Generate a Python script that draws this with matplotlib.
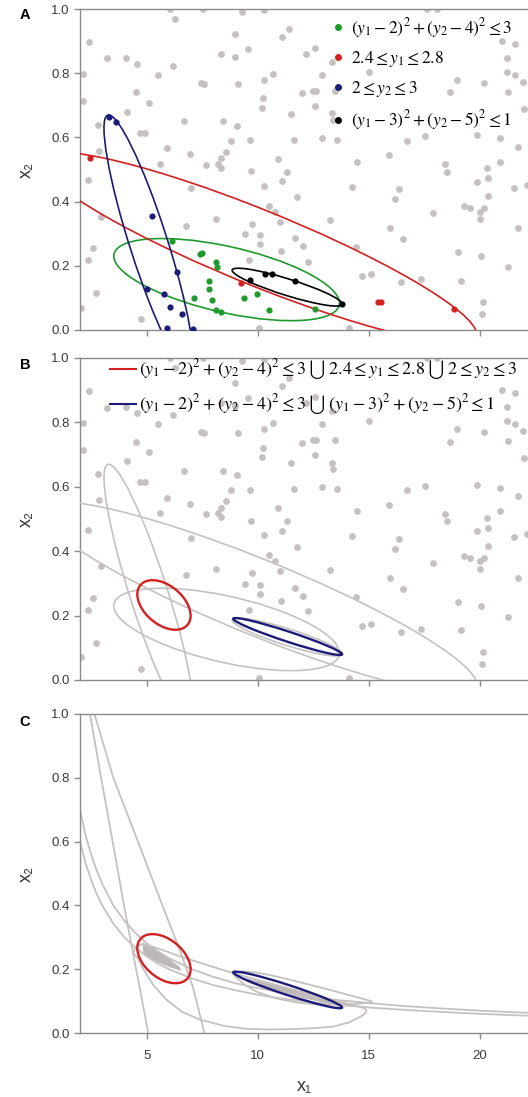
import numpy as np
import matplotlib
matplotlib.use('Agg')
import matplotlib.pyplot as plt
from matplotlib.patches import Circle, Polygon
from matplotlib.transforms import Affine2D
from matplotlib.lines import Line2D

plt.rcParams['font.family'] = ['Liberation Sans', 'DejaVu Sans']
plt.rcParams['mathtext.fontset'] = 'stix'

# grey samples (same cloud in A and B)
grey_x1 = [6.04, 7.54, 9.30, 10.29, 6.29, 8.97, 11.41, 11.10, 2.39, 8.34, 8.97, 9.57, 3.23, 4.09, 4.58,
           6.17, 2.14, 5.51, 10.69, 10.27, 7.44, 7.59, 9.12, 4.54, 12.01, 2.14, 5.12, 10.24, 10.18, 4.10,
           11.52, 6.67, 8.46, 9.07, 2.81, 4.70, 4.91, 8.79, 9.66, 11.64, 5.93, 2.86, 6.94, 8.56, 8.34,
           10.92, 8.22, 8.37, 7.66, 5.62, 9.72, 11.32,
           17.62, 18.07, 12.18, 12.59, 13.34, 14.99, 12.89, 20.99, 21.59, 21.22, 21.22, 21.59, 21.94, 18.97,
           20.17, 21.29, 18.67, 12.51, 12.63, 13.49, 12.59, 13.34, 13.41, 21.97, 12.89, 13.56, 16.72, 17.54,
           19.87, 20.92, 21.74, 15.89, 14.46, 18.44, 18.52, 20.32, 20.92,
           2.36, 6.99, 10.27, 11.10, 11.75, 2.96, 8.11, 6.79, 10.50, 10.77, 10.99, 9.75, 9.42, 10.09, 10.09,
           11.70, 12.05, 11.07, 2.59, 2.36, 9.61, 2.73, 2.06, 4.73, 10.06,
           19.87, 20.36, 14.24, 16.37, 16.18, 21.55, 22.12, 20.39, 19.31, 19.57, 20.17, 20.02, 20.02, 17.89,
           13.26, 15.96, 16.52, 21.74, 14.43, 12.27, 19.04, 20.05, 21.25, 14.69, 15.09, 16.44, 17.35, 19.16,
           20.14, 20.12, 14.09]
grey_x2 = [1.0, 1.0, 0.99, 0.997, 0.969, 0.922, 0.937, 0.912, 0.898, 0.859, 0.850, 0.875, 0.846, 0.848, 0.829,
           0.823, 0.797, 0.794, 0.797, 0.778, 0.771, 0.766, 0.766, 0.740, 0.737, 0.713, 0.708, 0.722, 0.691, 0.680,
           0.673, 0.650, 0.650, 0.636, 0.639, 0.614, 0.615, 0.590, 0.591, 0.593, 0.566, 0.558, 0.548, 0.555, 0.535,
           0.533, 0.518, 0.506, 0.514, 0.518, 0.495, 0.493,
           1.0, 1.0, 0.859, 0.880, 0.836, 0.805, 0.794, 0.900, 0.890, 0.848, 0.805, 0.794, 0.772, 0.779,
           0.769, 0.742, 0.740, 0.745, 0.745, 0.745, 0.699, 0.675, 0.654, 0.688, 0.599, 0.592, 0.589, 0.604,
           0.607, 0.597, 0.571, 0.545, 0.524, 0.516, 0.493, 0.504, 0.524,
           0.467, 0.441, 0.450, 0.464, 0.413, 0.353, 0.346, 0.325, 0.387, 0.369, 0.337, 0.331, 0.299, 0.296, 0.268,
           0.286, 0.262, 0.246, 0.254, 0.218, 0.218, 0.114, 0.070, 0.034, 0.005,
           0.462, 0.473, 0.446, 0.438, 0.407, 0.443, 0.452, 0.417, 0.386, 0.379, 0.379, 0.369, 0.345, 0.363,
           0.343, 0.317, 0.283, 0.317, 0.259, 0.213, 0.242, 0.231, 0.195, 0.169, 0.173, 0.149, 0.159, 0.154,
           0.086, 0.050, 0.007]

# samples meeting each constraint (panel A)
green_x1 = [6.14, 7.39, 7.50, 8.14, 8.18, 7.80, 7.80, 7.14, 7.96, 8.14, 8.37, 9.37, 9.99, 10.50, 12.59]
green_x2 = [0.277, 0.236, 0.239, 0.213, 0.197, 0.153, 0.127, 0.099, 0.095, 0.062, 0.057, 0.099, 0.112, 0.062, 0.064]
red_x1 = [2.44, 9.27, 15.40, 15.55, 18.85]
red_x2 = [0.536, 0.146, 0.088, 0.088, 0.064]
blue_x1 = [3.29, 3.61, 5.24, 6.38, 5.02, 5.78, 6.05, 6.61, 5.93, 7.11]
blue_x2 = [0.664, 0.649, 0.356, 0.182, 0.129, 0.111, 0.072, 0.051, 0.007, 0.002]
black_x1 = [9.64, 10.32, 10.66, 11.67, 13.79]
black_x2 = [0.156, 0.173, 0.173, 0.153, 0.081]

# enclosing ellipses: centre x1, centre x2, half width, half height, correlation
ell_green = (8.6, 0.157, 5.08, 0.128, -0.572)
ell_red = (10.0, 0.257, 9.85, 0.297, -0.906)
ell_blue = (5.09, 0.27, 2.01, 0.40, -0.895)
ell_black = (11.33, 0.1335, 2.48, 0.059, -0.89)
ell_union1 = (5.78, 0.233, 1.2, 0.077, -0.43)
ell_union2 = (11.35, 0.135, 2.45, 0.0574, -0.958)

# true constraint boundaries (panel C)
y2lo_x1 = [2.45, 2.95, 3.47, 3.98, 4.47, 4.75, 5.07]
y2lo_x2 = [1.0, 0.8, 0.6, 0.4, 0.22, 0.12, 0.0]
y2hi_x1 = [2.65, 3.5, 4.5, 5.6, 6.6, 7.1, 7.6]
y2hi_x2 = [1.0, 0.8, 0.62, 0.42, 0.24, 0.14, 0.0]
hyp_x1 = [2.0, 2.25, 2.5, 2.75, 3.0, 3.5, 4.0, 4.5, 5.0, 5.5, 6.0, 7.0, 8.0, 9.0, 10.0, 11.0, 12.0,
          13.5, 15.0, 16.5, 18.0, 20.0, 22.2]
y1hi_x2 = [0.70, 0.62, 0.56, 0.51, 0.468, 0.40, 0.352, 0.313, 0.282, 0.256, 0.235, 0.201, 0.176, 0.156,
           0.141, 0.128, 0.117, 0.104, 0.094, 0.085, 0.078, 0.070, 0.063]
y1lo_x2 = [0.60, 0.533, 0.48, 0.436, 0.40, 0.343, 0.300, 0.267, 0.240, 0.218, 0.200, 0.172, 0.150, 0.134,
           0.120, 0.109, 0.100, 0.089, 0.080, 0.073, 0.067, 0.060, 0.054]
circ1_x1 = [4.4, 4.6, 4.85, 5.3, 5.9, 6.6, 7.4, 8.5, 9.5, 10.5, 11.5, 12.5, 13.4, 14.1, 14.6, 14.85,
            14.9, 14.8, 14.3, 13.5, 12.5, 11.5, 10.5, 9.5, 8.5, 7.5, 6.5, 5.8, 5.2, 4.75, 4.5, 4.4]
circ1_x2 = [0.25, 0.235, 0.2, 0.15, 0.104, 0.066, 0.042, 0.022, 0.013, 0.011, 0.012, 0.015, 0.02, 0.033, 0.05, 0.062,
            0.07, 0.078, 0.088, 0.102, 0.12, 0.138, 0.157, 0.176, 0.196, 0.218, 0.24, 0.258, 0.272, 0.278, 0.27, 0.25]
circ2_x1 = [8.9, 9.3, 9.9, 10.6, 11.4, 12.3, 13.2, 14.0, 14.7, 15.1, 15.15, 14.9, 14.3, 13.5, 12.6, 11.7,
            10.8, 10.0, 9.4, 9.0, 8.9]
circ2_x2 = [0.19, 0.193, 0.19, 0.181, 0.168, 0.152, 0.136, 0.121, 0.108, 0.1, 0.096, 0.094, 0.091, 0.089, 0.09,
            0.096, 0.109, 0.128, 0.152, 0.176, 0.19]
feas1_x1 = [4.82, 5.3, 5.9, 6.5, 6.55, 6.0, 5.4, 4.85]
feas1_x2 = [0.285, 0.265, 0.238, 0.207, 0.195, 0.207, 0.225, 0.248]
feas2_x1 = [9.5, 10.5, 11.5, 12.5, 13.5, 14.2, 14.0, 13.0, 12.0, 11.0, 10.0, 9.5]
feas2_x2 = [0.172, 0.155, 0.137, 0.118, 0.10, 0.088, 0.083, 0.095, 0.11, 0.128, 0.148, 0.16]

GREY = '#c6c1c1'
GREEN = '#1e9a2c'
RED = '#d42020'
NAVY = '#1c1c78'


def draw_ellipse(ax, e, color, lw):
    cx, cy, hw, hh, rho = e
    s = np.sqrt(1 - rho ** 2)
    tr = Affine2D(np.array([[hw, 0, cx], [hh * rho, -hh * s, cy], [0, 0, 1]]))
    ax.add_patch(Circle((0, 0), 1, transform=tr + ax.transData, fill=False,
                        edgecolor=color, lw=lw, zorder=3))


def style_axes(ax, xlabels):
    ax.set_xlim(2, 22.17)
    ax.set_ylim(0, 1.0)
    ax.set_xticks([5, 10, 15, 20])
    ax.set_yticks([0, 0.2, 0.4, 0.6, 0.8, 1.0])
    ax.set_yticklabels(['0.0', '0.2', '0.4', '0.6', '0.8', '1.0'])
    if not xlabels:
        ax.set_xticklabels([])
    ax.spines['right'].set_visible(False)
    for sp in ['left', 'bottom', 'top']:
        ax.spines[sp].set_color('#8a8a8a')
        ax.spines[sp].set_linewidth(1.0)
    ax.tick_params(direction='out', length=4, width=1, color='#8a8a8a',
                   labelcolor='#3a3a3a', labelsize=9.5)
    ax.tick_params(axis='x', pad=8)
    ax.set_ylabel('x₂', fontsize=13, color='#333333', labelpad=12)


fig = plt.figure(figsize=(5.28, 10.97), dpi=100)
W, H = 528, 1097
axA = fig.add_axes([80 / W, (H - 330) / H, 448 / W, 321 / H])
axB = fig.add_axes([80 / W, (H - 680) / H, 448 / W, 322 / H])
axC = fig.add_axes([80 / W, (H - 1033) / H, 448 / W, 319 / H])

# ---- A
axA.scatter(grey_x1, grey_x2, s=24, color=GREY, linewidths=0, zorder=2)
for e, c in [(ell_green, GREEN), (ell_red, RED), (ell_blue, NAVY), (ell_black, 'black')]:
    draw_ellipse(axA, e, c, 1.2)
axA.scatter(green_x1, green_x2, s=20, color=GREEN, linewidths=0, zorder=4)
axA.scatter(red_x1, red_x2, s=20, color=RED, linewidths=0, zorder=4)
axA.scatter(blue_x1, blue_x2, s=20, color=NAVY, linewidths=0, zorder=4)
axA.scatter(black_x1, black_x2, s=20, color='black', linewidths=0, zorder=4)
style_axes(axA, False)
hA = [Line2D([], [], ls='none', marker='o', ms=4, color=c) for c in [GREEN, RED, NAVY, 'black']]
labA = [r'$(y_1-2)^2+(y_2-4)^2\leq 3$', r'$2.4\leq y_1\leq 2.8$',
        r'$2\leq y_2\leq 3$', r'$(y_1-3)^2+(y_2-5)^2\leq 1$']
axA.legend(hA, labA, loc='upper right', bbox_to_anchor=(0.987, 1.012), frameon=False,
           fontsize=12.5, handlelength=0.6, handletextpad=0.4, labelspacing=0.55,
           borderaxespad=0.2)

# ---- B
axB.scatter(grey_x1, grey_x2, s=24, color=GREY, linewidths=0, zorder=2)
for e in [ell_green, ell_red, ell_blue, ell_black]:
    draw_ellipse(axB, e, GREY, 1.2)
draw_ellipse(axB, ell_union1, RED, 1.7)
draw_ellipse(axB, ell_union2, NAVY, 1.7)
style_axes(axB, False)
hB = [Line2D([], [], color=RED, lw=1.5), Line2D([], [], color=NAVY, lw=1.5)]
labB = [r'$(y_1-2)^2+(y_2-4)^2\leq 3\;\bigcup\; 2.4\leq y_1\leq 2.8\;\bigcup\; 2\leq y_2\leq 3$',
        r'$(y_1-2)^2+(y_2-4)^2\leq 3\;\bigcup\; (y_1-3)^2+(y_2-5)^2\leq 1$']
axB.legend(hB, labB, loc='upper left', bbox_to_anchor=(0.05, 1.024), frameon=False,
           fontsize=13, handlelength=1.45, handletextpad=0.15, labelspacing=0.55,
           borderaxespad=0)

# ---- C
axC.add_patch(Polygon(np.column_stack([feas1_x1, feas1_x2]), closed=True, color='#bdb8b8', lw=0, zorder=2))
axC.add_patch(Polygon(np.column_stack([feas2_x1, feas2_x2]), closed=True, color='#bdb8b8', lw=0, zorder=2))
for xs, ys in [(y2lo_x1, y2lo_x2), (y2hi_x1, y2hi_x2), (hyp_x1, y1hi_x2), (hyp_x1, y1lo_x2),
               (circ1_x1, circ1_x2), (circ2_x1, circ2_x2)]:
    axC.plot(xs, ys, color=GREY, lw=1.3, zorder=2)
draw_ellipse(axC, ell_union1, RED, 1.7)
draw_ellipse(axC, ell_union2, NAVY, 1.7)
style_axes(axC, True)
axC.set_xlabel('x₁', fontsize=13, color='#333333', labelpad=12)

for lab, yy in [('A', 15), ('B', 365), ('C', 722)]:
    fig.text(25 / W, 1 - yy / H, lab, fontsize=10.5, fontweight='bold', ha='center', va='center')

fig.savefig('out.png', dpi=100)
